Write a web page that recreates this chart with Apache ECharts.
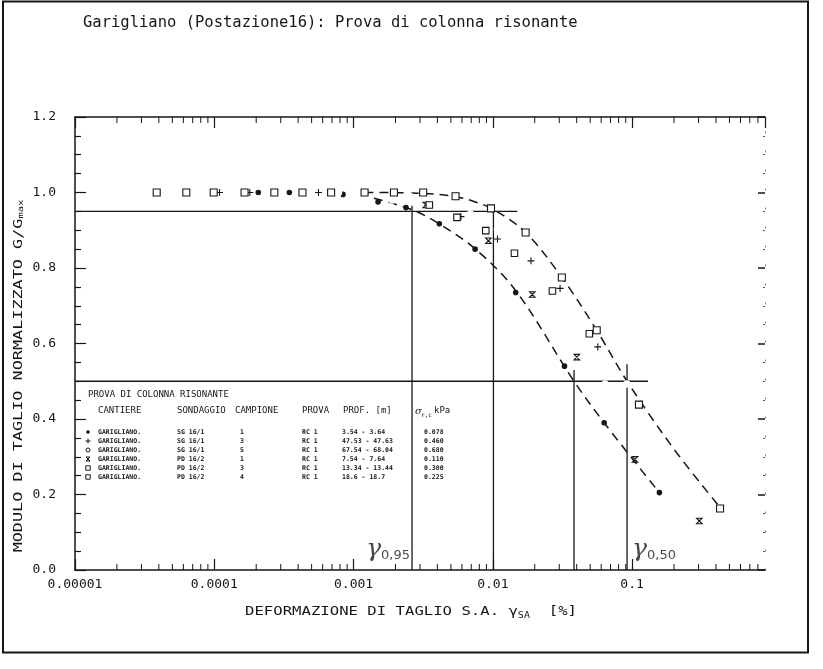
<!DOCTYPE html>
<html>
<head>
<meta charset="utf-8">
<script src="https://cdn.jsdelivr.net/npm/echarts@6/dist/echarts.min.js"></script>
<style>
  html, body { margin: 0; padding: 0; background: #fff; }
  #chart { width: 823px; height: 669px; }
</style>
</head>
<body>
<div id="chart"></div>
<script>
const FONT = '"DejaVu Sans Mono", "Liberation Mono", monospace';
const INK = '#161616';

// Tick labels
const xTickLabels = ['0.00001', '0.0001', '0.001', '0.01', '0.1'];
const yTickLabels = ['0.0', '0.2', '0.4', '0.6', '0.8', '1.0', '1.2'];

// G/Gmax against shear strain [%], one array per specimen
const sg1c1 = [[2.07e-4, 1.0], [3.46e-4, 1.0], [8.4e-4, 0.995], [0.0015, 0.975], [0.00238, 0.96], [0.00413, 0.917], [0.00746, 0.85], [0.0146, 0.735], [0.0327, 0.54], [0.063, 0.39], [0.157, 0.205]];
const sg1c3 = [[1.09e-4, 1.0], [1.8e-4, 1.0], [5.6e-4, 1.0], [0.0059, 0.936], [0.0108, 0.877], [0.0188, 0.819], [0.0304, 0.746], [0.0567, 0.591]];
const sg1c5 = [[4.7e-4, 1.0], [7.8e-4, 1.0], [0.0012, 0.99], [0.0019, 0.98], [0.0025, 0.992], [0.0041, 0.977], [0.0069, 0.943], [0.0108, 0.901], [0.0164, 0.835], [0.025, 0.746], [0.0385, 0.635], [0.064, 0.493], [0.0916, 0.493], [0.117, 0.323]];
const pd2c1 = [[0.0033, 0.967], [0.0093, 0.872], [0.0192, 0.73], [0.0401, 0.564], [0.105, 0.293], [0.304, 0.13]];
const pd2c3 = [[3.86e-5, 1.0], [6.3e-5, 1.0], [9.9e-5, 1.0], [1.65e-4, 1.0], [2.7e-4, 1.0], [4.3e-4, 1.0], [6.9e-4, 1.0], [0.0012, 1.0], [0.00195, 1.0], [0.00316, 1.0], [0.0054, 0.99], [0.0097, 0.958], [0.0172, 0.894], [0.0313, 0.775], [0.0557, 0.635], [0.112, 0.438], [0.428, 0.163]];
const pd2c4 = [[0.0035, 0.967], [0.00553, 0.934], [0.0089, 0.899], [0.0143, 0.839], [0.0268, 0.739], [0.0493, 0.626]];

// Bounding curves (dashed)
const curveUpper = [[0.0012, 1.0], [0.003, 0.998], [0.0054, 0.989], [0.0075, 0.975], [0.0101, 0.955], [0.0172, 0.894], [0.0313, 0.775], [0.0557, 0.635], [0.092, 0.5], [0.2, 0.32], [0.43, 0.165]];
const curveLower = [[0.0014, 0.985], [0.0026, 0.955], [0.004, 0.92], [0.0075, 0.85], [0.0146, 0.74], [0.0383, 0.5], [0.063, 0.39], [0.157, 0.205]];

// Reference levels of G/Gmax and the strains where the curves reach them
const gLevels = [0.95, 0.50];
const gamma95 = [0.00263, 0.0101];
const gamma50 = [0.0383, 0.092];
const levelEnds = [0.015, 0.13];
const vTops95 = [0.965, 0.965];
const vTops50 = [0.53, 0.545];

// Test table
const tabTitle = 'PROVA DI COLONNA RISONANTE';
const tabHeader = ['CANTIERE', 'SONDAGGIO', 'CAMPIONE', 'PROVA', 'PROF. [m]'];
const cantiere = ['GARIGLIANO.', 'GARIGLIANO.', 'GARIGLIANO.', 'GARIGLIANO.', 'GARIGLIANO.', 'GARIGLIANO.'];
const sondaggio = ['SG 16/1', 'SG 16/1', 'SG 16/1', 'PD 16/2', 'PD 16/2', 'PD 16/2'];
const campione = ['1', '3', '5', '1', '3', '4'];
const prova = ['RC 1', 'RC 1', 'RC 1', 'RC 1', 'RC 1', 'RC 1'];
const profondita = ['3.54 - 3.64', '47.53 - 47.63', '67.54 - 68.04', '7.54 - 7.64', '13.34 - 13.44', '18.6 - 18.7'];
const sigmaC = ['0.078', '0.460', '0.680', '0.110', '0.300', '0.225'];

const X_MIN = 1e-5, X_MAX = 0.9;

// minor ticks of the log axis (2..9 in every decade)
const minorTicks = [];
for (let e = -5; e <= -1; e++) {
  for (let m = 2; m <= 9; m++) {
    const v = m * Math.pow(10, e);
    if (v < X_MAX * 0.999) minorTicks.push([v, 0]);
  }
}

const symPlus = 'path://M0,5L10,5M5,0L5,10';
const symHour = 'path://M0,0L10,0L0,10L10,10Z';

const specimens = [
  { data: sg1c1, symbol: 'circle', size: 4.5, fill: INK, leg: 'circle' },
  { data: sg1c3, symbol: symPlus, size: 7, fill: 'transparent', leg: 'plus' },
  { data: sg1c5, symbol: 'emptyCircle', size: 5.5, fill: '#fff', leg: 'ecircle' },
  { data: pd2c1, symbol: symHour, size: 5.5, fill: 'transparent', leg: 'hour' },
  { data: pd2c3, symbol: 'rect', size: 7, fill: '#fff', leg: 'rect' },
  { data: pd2c4, symbol: 'rect', size: 6.5, fill: '#fff', leg: 'rect' }
];

const fmtLevel = (v) => v.toFixed(2).replace('.', ',');

const series = [];

// minor ticks on top and bottom axes
series.push({
  type: 'custom',
  silent: true,
  xAxisIndex: 0, yAxisIndex: 0,
  data: minorTicks,
  clip: false,
  z: 1,
  renderItem(params, api) {
    const x = api.coord([api.value(0), 0])[0];
    const yb = api.coord([api.value(0), 0])[1];
    const yt = api.coord([api.value(0), 1.2])[1];
    return {
      type: 'group',
      children: [
        { type: 'line', shape: { x1: x, y1: yb, x2: x, y2: yb - 6 }, style: { stroke: INK, lineWidth: 1 } },
        { type: 'line', shape: { x1: x, y1: yt, x2: x, y2: yt + 6 }, style: { stroke: INK, lineWidth: 1 } }
      ]
    };
  }
});

// horizontal reference levels
gLevels.forEach((lv, i) => {
  series.push({
    type: 'line', silent: true, symbol: 'none',
    data: [[X_MIN, lv], [levelEnds[i], lv]],
    lineStyle: { color: INK, width: 1.4 }
  });
});
// vertical strain markers
[[gamma95[0], vTops95[0]], [gamma95[1], vTops95[1]], [gamma50[0], vTops50[0]], [gamma50[1], vTops50[1]]].forEach(([x, top]) => {
  series.push({
    type: 'line', silent: true, symbol: 'none',
    data: [[x, 0], [x, top]],
    lineStyle: { color: INK, width: 1.3 }
  });
});

// dashed bounding curves
[curveUpper, curveLower].forEach((c) => {
  series.push({
    type: 'line', silent: true, symbol: 'none', smooth: 0.35,
    data: c,
    lineStyle: { color: INK, width: 1.5, type: [9, 6] }
  });
});

// specimens
specimens.forEach((s) => {
  series.push({
    type: 'scatter',
    data: s.data,
    symbol: s.symbol,
    symbolSize: s.size,
    z: 5,
    itemStyle: { color: s.fill, borderColor: INK, borderWidth: 1.1, opacity: 1 }
  });
});

// gamma labels at the foot of the marker lines
const gammaRich = {
  g: { fontFamily: '"DejaVu Serif", serif', fontStyle: 'italic', fontSize: 25, color: INK },
  s: { fontFamily: '"DejaVu Sans", sans-serif', fontSize: 13, color: INK, verticalAlign: 'bottom', padding: [10, 0, 0, 0] }
};
series.push({
  type: 'scatter', silent: true, symbolSize: 0, z: 6,
  data: [[gamma95[0], 0]],
  label: {
    show: true, position: 'top', align: 'right', distance: 8, offset: [-2, 0],
    formatter: '{g|γ}{s|' + fmtLevel(gLevels[0]) + '}',
    rich: gammaRich
  }
});
series.push({
  type: 'scatter', silent: true, symbolSize: 0, z: 6,
  data: [[gamma50[1], 0]],
  label: {
    show: true, position: 'top', align: 'left', distance: 8, offset: [5, 0],
    formatter: '{g|γ}{s|' + fmtLevel(gLevels[1]) + '}',
    rich: gammaRich
  }
});

// table graphics
const tableX = { sym: 88, cant: 98, sond: 177, camp: 240, prova: 302, prof: 342, sig: 424 };
const rowY = [432, 441, 450, 459, 468, 477];
const gfx = [];
const txt = (text, x, y, font) => ({
  type: 'text', x, y, silent: true,
  style: { text, font, fill: INK, verticalAlign: 'middle' }
});

gfx.push(txt(tabTitle, 88, 395, '9px ' + FONT));
gfx.push(txt(tabHeader[0], 98, 411, '9px ' + FONT));
gfx.push(txt(tabHeader[1], 177, 411, '9px ' + FONT));
gfx.push(txt(tabHeader[2], 235, 411, '9px ' + FONT));
gfx.push(txt(tabHeader[3], 302, 411, '9px ' + FONT));
gfx.push(txt(tabHeader[4], 343, 411, '9px ' + FONT));
gfx.push(txt('σ', 415, 411, 'italic 10px "DejaVu Serif", serif'));
gfx.push(txt('r,c', 421, 415, '6px ' + FONT));
gfx.push(txt('kPa', 434, 411, '9px ' + FONT));

const rowFont = 'bold 6.5px ' + FONT;
rowY.forEach((y, i) => {
  const leg = specimens[i].leg;
  const sx = tableX.sym;
  if (leg === 'circle') gfx.push({ type: 'circle', silent: true, shape: { cx: sx, cy: y, r: 1.8 }, style: { fill: INK } });
  if (leg === 'ecircle') gfx.push({ type: 'circle', silent: true, shape: { cx: sx, cy: y, r: 2 }, style: { fill: '#fff', stroke: INK, lineWidth: 1 } });
  if (leg === 'plus') gfx.push({ type: 'polyline', silent: true, shape: { points: [[sx - 2.5, y], [sx + 2.5, y]] }, style: { stroke: INK, lineWidth: 1 } },
                               { type: 'polyline', silent: true, shape: { points: [[sx, y - 2.5], [sx, y + 2.5]] }, style: { stroke: INK, lineWidth: 1 } });
  if (leg === 'hour') gfx.push({ type: 'polygon', silent: true, shape: { points: [[sx - 2, y - 2], [sx + 2, y - 2], [sx - 2, y + 2], [sx + 2, y + 2]] }, style: { fill: 'none', stroke: INK, lineWidth: 1 } });
  if (leg === 'rect') gfx.push({ type: 'rect', silent: true, shape: { x: sx - 2.2, y: y - 2.2, width: 4.4, height: 4.4 }, style: { fill: '#fff', stroke: INK, lineWidth: 1 } });
  gfx.push(txt(cantiere[i], tableX.cant, y, rowFont));
  gfx.push(txt(sondaggio[i], tableX.sond, y, rowFont));
  gfx.push(txt(campione[i], tableX.camp, y, rowFont));
  gfx.push(txt(prova[i], tableX.prova, y, rowFont));
  gfx.push(txt(profondita[i], tableX.prof, y, rowFont));
  gfx.push(txt(sigmaC[i], tableX.sig, y, rowFont));
});

// page frame
gfx.push({ type: 'rect', silent: true, shape: { x: 3, y: 1.5, width: 805, height: 651 }, style: { fill: 'none', stroke: INK, lineWidth: 2 } });

// y-axis title (plotter lettering: widened along the baseline)
gfx.push({
  type: 'text', silent: true, x: 19, y: 376, rotation: Math.PI / 2, scaleX: 1.4,
  style: {
    text: '{t|MODULO DI TAGLIO NORMALIZZATO G/G}{s|max}',
    rich: {
      t: { font: '12px ' + FONT, fill: INK },
      s: { font: '7.5px ' + FONT, fill: INK, verticalAlign: 'bottom', padding: [5, 0, 0, 0] }
    },
    align: 'center', verticalAlign: 'middle'
  }
});

// x-axis title
gfx.push({
  type: 'text', silent: true, x: 411, y: 612, scaleX: 1.25,
  style: {
    text: '{t|DEFORMAZIONE DI TAGLIO S.A. γ}{s|SA}{t|  [%]}',
    rich: {
      t: { font: '12.5px ' + FONT, fill: INK },
      s: { font: '8px ' + FONT, fill: INK, verticalAlign: 'bottom', padding: [7, 0, 0, 0] }
    },
    align: 'center', verticalAlign: 'middle'
  }
});

const chart = echarts.init(document.getElementById('chart'), null, { renderer: 'canvas' });

const xLabelFmt = (v) => {
  const l = Math.log10(v);
  const r = Math.round(l);
  if (Math.abs(l - r) > 1e-6) return '';
  return xTickLabels[r + 5] || '';
};

chart.setOption({
  animation: false,
  backgroundColor: '#fff',
  title: {
    text: 'Garigliano (Postazione16): Prova di colonna risonante',
    left: 78, top: 10,
    textStyle: { fontFamily: FONT, fontSize: 15.5, fontWeight: 'normal', color: INK }
  },
  grid: { left: 75, right: 58, top: 117, bottom: 99 },
  xAxis: [
    {
      type: 'log', logBase: 10, min: X_MIN, max: X_MAX, position: 'bottom',
      axisLine: { onZero: false, lineStyle: { color: INK, width: 1.5 } },
      axisTick: { inside: true, length: 11, lineStyle: { color: INK, width: 1.2 } },
      axisLabel: { formatter: xLabelFmt, fontFamily: FONT, fontSize: 13, color: INK, margin: 8, showMinLabel: true, showMaxLabel: false },
      splitLine: { show: false }
    },
    {
      type: 'log', logBase: 10, min: X_MIN, max: X_MAX, position: 'top',
      axisLine: { show: true, onZero: false, lineStyle: { color: INK, width: 1.5 } },
      axisTick: { inside: true, length: 11, lineStyle: { color: INK, width: 1.2 } },
      axisLabel: { show: false },
      splitLine: { show: false }
    }
  ],
  yAxis: [
    {
      type: 'value', min: 0, max: 1.2, interval: 0.2, position: 'left',
      axisLine: { show: true, onZero: false, lineStyle: { color: INK, width: 1.5 } },
      axisTick: { show: true, inside: true, length: 11, lineStyle: { color: INK, width: 1.2 } },
      minorTick: { show: true, splitNumber: 4, length: 6, lineStyle: { color: INK, width: 1.2 } },
      axisLabel: { formatter: (v) => yTickLabels[Math.round(v / 0.2)], fontFamily: FONT, fontSize: 13, color: INK, margin: 19 },
      splitLine: { show: false }
    },
    {
      type: 'value', min: 0, max: 1.2, interval: 0.2, position: 'right',
      axisLine: { show: true, onZero: false, lineStyle: { color: '#777', width: 1, type: [1, 18] } },
      axisTick: { show: true, inside: true, length: 7, lineStyle: { color: INK, width: 1.5 } },
      minorTick: { show: true, splitNumber: 4, length: 2, lineStyle: { color: '#555', width: 1 } },
      axisLabel: { show: false },
      splitLine: { show: false }
    }
  ],
  graphic: { elements: gfx },
  series
});
</script>
</body>
</html>
